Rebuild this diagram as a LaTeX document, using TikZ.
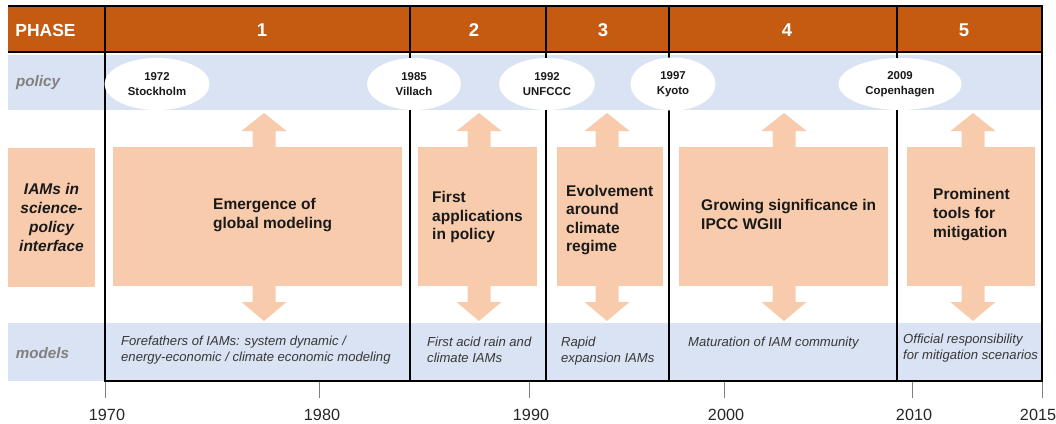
\documentclass[tikz,border=0pt]{standalone}
\usepackage{fontspec}
\setmainfont{Liberation Sans}
\usetikzlibrary{shapes.geometric}
\definecolor{hdr}{RGB}{197,90,17}
\definecolor{pale}{RGB}{218,227,243}
\definecolor{peach}{RGB}{248,203,173}
\definecolor{lbl}{RGB}{128,128,128}
\definecolor{mtxt}{RGB}{55,55,55}
\newcommand\dblarrow[1]{%
  \fill[peach] ({#1-11.5},131) -- ({#1-22.5},131) -- (#1,113) -- ({#1+22.5},131) -- ({#1+11.5},131)
    -- ({#1+11.5},302) -- ({#1+22.5},302) -- (#1,321) -- ({#1-22.5},302) -- ({#1-11.5},302) -- cycle;}
\begin{document}
\begin{tikzpicture}[x=1pt,y=-1pt,
  peachbox/.style={fill=peach, draw=none, inner sep=0pt, rectangle},
  bigtxt/.style={font=\fontsize{15.5}{18.6}\selectfont\bfseries, align=left, inner sep=0pt, text=black!90, anchor=west},
  modtxt/.style={font=\fontsize{13.1}{16}\selectfont\itshape, align=left, inner sep=0pt, text=mtxt, anchor=west},
  oval/.style={ellipse, fill=white, draw=none, inner sep=0pt, minimum height=52, align=center, font=\fontsize{11.4}{15}\selectfont\bfseries, text=black!90},
  phnum/.style={font=\fontsize{18.5}{20}\selectfont\bfseries, text=white, inner sep=0pt},
  rowlbl/.style={font=\fontsize{15.2}{18}\selectfont\bfseries\itshape, text=lbl, inner sep=0pt},
  frame/.style={line width=2.2pt, black},
  tick/.style={draw=gray, line width=0.9pt},
  yr/.style={font=\fontsize{16.2}{18}\selectfont, text=black!85, inner sep=0pt}]
\useasboundingbox (0,0) rectangle (1056,423);
% background bands
\fill[hdr] (8,6) rectangle (1042,52);
\fill[pale] (8,55) rectangle (1042,110);
\fill[pale] (8,323) rectangle (1042,381);
% double arrows
\dblarrow{264}
\dblarrow{479}
\dblarrow{607}
\dblarrow{784}
\dblarrow{973}
% peach boxes
\node[peachbox, minimum width=87, minimum height=139, align=center,
      font=\fontsize{15.5}{18.7}\selectfont\bfseries\itshape, text=black!90] (iams) at (51.5,217.5)
      {IAMs in\\science-\\policy\\interface};
\node[peachbox, minimum width=289, minimum height=139] (b1) at (257.5,216.5) {};
\node[peachbox, minimum width=119, minimum height=139] (b2) at (477.5,216.5) {};
\node[peachbox, minimum width=106, minimum height=139] (b3) at (610,216.5) {};
\node[peachbox, minimum width=209, minimum height=139] (b4) at (783.5,216.5) {};
\node[peachbox, minimum width=128, minimum height=139] (b5) at (971,216.5) {};
% frame lines
\draw[frame] (105,6) rectangle (1042,381);
\draw[frame] (8,6) -- (105,6);
\draw[frame] (8,52) -- (1042,52);
\foreach \x in {410,546,669,897} \draw[frame] (\x,6) -- (\x,381);
% header texts
\node[font=\fontsize{17.5}{20}\selectfont\bfseries, text=white, inner sep=0pt] (phase) at (45.5,30) {PHASE};
\node[phnum] (n1) at (262,30) {1};
\node[phnum] (n2) at (474,30) {2};
\node[phnum] (n3) at (603,30) {3};
\node[phnum] (n4) at (787,30) {4};
\node[phnum] (n5) at (964,30) {5};
% row labels
\node[rowlbl] (policy) at (38,83) {policy};
\node[rowlbl] (models) at (42.5,353) {models};
% policy ellipses
\node[oval, minimum width=105] (e1) at (157,84) {1972\\Stockholm};
\node[oval, minimum width=94] (e2) at (414,84) {1985\\Villach};
\node[oval, minimum width=96] (e3) at (547,84) {1992\\UNFCCC};
\node[oval, minimum width=85, minimum height=53] (e4) at (673,84) {1997\\Kyoto};
\node[oval, minimum width=123] (e5) at (900,84) {2009\\Copenhagen};
% phase texts
\node[bigtxt] (t1) at (213,215) {Emergence of\\global modeling};
\node[bigtxt] (t2) at (432,217) {First\\applications\\in policy};
\node[bigtxt] (t3) at (566,220) {Evolvement\\around\\climate\\regime};
\node[bigtxt] (t4) at (701,214.5) {Growing significance in\\IPCC WGIII};
\node[bigtxt] (t5) at (933,214.5) {Prominent\\tools for\\mitigation};
% models texts
\node[modtxt] (m1) at (121,350.5) {Forefathers of IAMs: system dynamic /\\energy-economic / climate economic modeling};
\node[modtxt] (m2) at (427,350) {First acid rain and\\climate IAMs};
\node[modtxt] (m3) at (561,351) {Rapid\\expansion IAMs};
\node[modtxt] (m4) at (688,343) {Maturation of IAM community};
\node[modtxt] (m5) at (903,348.5) {Official responsibility\\for mitigation scenarios};
% time axis
\foreach \x in {105,319,529,724,912,1042} \draw[tick] (\x,382) -- (\x,398);
\node[yr] (y1970) at (107,415) {1970};
\node[yr] (y1980) at (322,415) {1980};
\node[yr] (y1990) at (531,415) {1990};
\node[yr] (y2000) at (726,415) {2000};
\node[yr] (y2010) at (914,415) {2010};
\node[yr] (y2015) at (1038,415) {2015};
\end{tikzpicture}
\end{document}
